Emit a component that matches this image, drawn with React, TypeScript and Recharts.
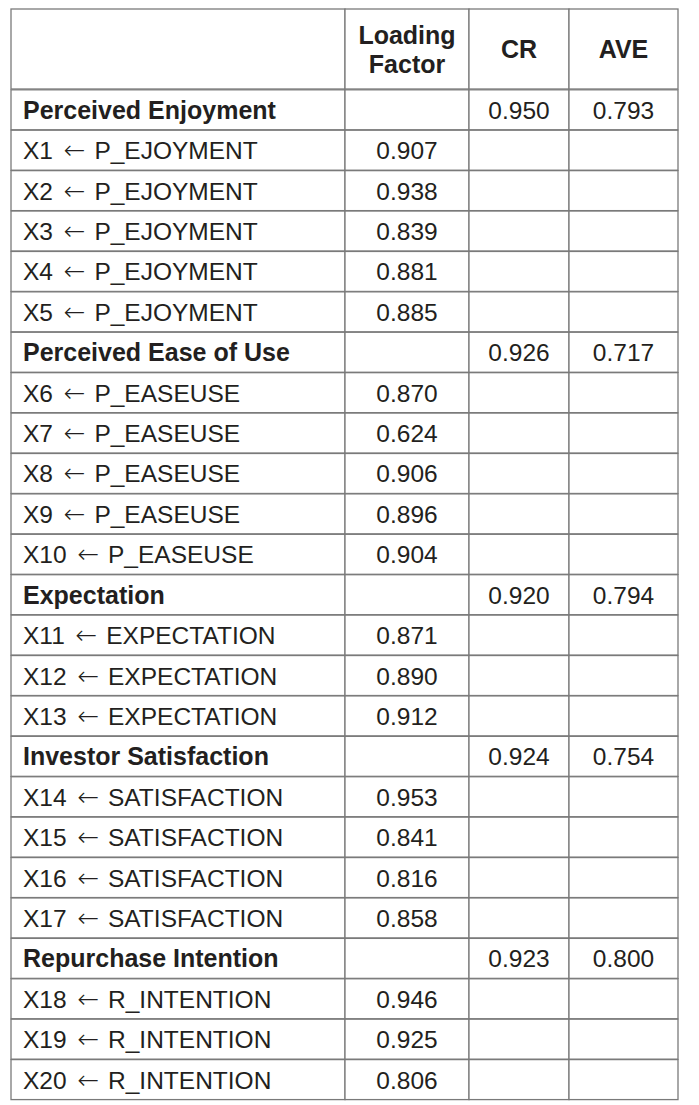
import { BarChart, Bar, XAxis, YAxis } from "recharts";

// table content
const headers = ["", "Loading\nFactor", "CR", "AVE"];
const groups = [
  "Perceived Enjoyment",
  "Perceived Ease of Use",
  "Expectation",
  "Investor Satisfaction",
  "Repurchase Intention",
];
const constructs = ["P_EJOYMENT", "P_EASEUSE", "EXPECTATION", "SATISFACTION", "R_INTENTION"];
const itemCounts = [5, 5, 3, 4, 3];
const groupCR = [0.95, 0.926, 0.92, 0.924, 0.923];
const groupAVE = [0.793, 0.717, 0.794, 0.754, 0.8];
const loadings = [
  0.907, 0.938, 0.839, 0.881, 0.885,
  0.87, 0.624, 0.906, 0.896, 0.904,
  0.871, 0.89, 0.912,
  0.953, 0.841, 0.816, 0.858,
  0.946, 0.925, 0.806,
];

// column widths in px (x domain units)
const COLS = ["name", "load", "cr", "ave"];
const COL_W = { name: 334, load: 124, cr: 100, ave: 109 };
const TOTAL_W = 667;

const FONT = '"Liberation Sans", Arial, Helvetica, sans-serif';
const INK = "#231f20";
const LINE = "#7a7a7a";

type Row = {
  key: string;
  kind: "h1" | "h2" | "group" | "item";
  text: Record<string, string>;
  name: number; load: number; cr: number; ave: number;
};

const rows: Row[] = [];
const widths = { name: COL_W.name, load: COL_W.load, cr: COL_W.cr, ave: COL_W.ave };
rows.push({ key: "h1", kind: "h1", text: { name: headers[0], load: headers[1], cr: headers[2], ave: headers[3] }, ...widths });
rows.push({ key: "h2", kind: "h2", text: {}, ...widths });
let n = 0;
groups.forEach((g, gi) => {
  rows.push({
    key: "g" + gi, kind: "group",
    text: { name: g, load: "", cr: groupCR[gi].toFixed(3), ave: groupAVE[gi].toFixed(3) },
    ...widths,
  });
  for (let i = 0; i < itemCounts[gi]; i++) {
    n++;
    rows.push({
      key: "x" + n, kind: "item",
      text: { name: `X${n} \u2190 ${constructs[gi]}`, load: loadings[n - 1].toFixed(3), cr: "", ave: "" },
      ...widths,
    });
  }
});

function CellShape(props: any) {
  const { x, y, width, height, payload, col } = props;
  const row: Row = payload;
  if (row.kind === "h2") return <g />;
  const h = row.kind === "h1" ? height * 2 : height;
  const txt = row.text[col] || "";
  const cy = y + h / 2;
  const bold = row.kind === "h1" || (row.kind === "group" && col === "name");
  const common = { fill: INK, fontSize: bold ? 25 : 24.5, fontFamily: FONT, fontWeight: bold ? 700 : 400 };
  let label = null;
  if (txt) {
    if (col === "name") {
      const arrowAt = txt.indexOf("\u2190");
      label = arrowAt < 0 ? (
        <text x={x + 12} y={cy + 9} textAnchor="start" {...common}>{txt}</text>
      ) : (
        <text x={x + 12} y={cy + 9} textAnchor="start" {...common}>
          <tspan>{txt.slice(0, arrowAt)}</tspan>
          <tspan dx={4} fontFamily='"DejaVu Sans", sans-serif' fontSize={26} fontWeight={200}>{"\u2190"}</tspan>
          <tspan dx={2}>{txt.slice(arrowAt + 1)}</tspan>
        </text>
      );
    } else if (txt.includes("\n")) {
      const parts = txt.split("\n");
      label = (
        <text textAnchor="middle" {...common}>
          <tspan x={x + width / 2} y={cy - 5}>{parts[0]}</tspan>
          <tspan x={x + width / 2} y={cy + 24}>{parts[1]}</tspan>
        </text>
      );
    } else {
      label = <text x={x + width / 2} y={cy + 9} textAnchor="middle" {...common}>{txt}</text>;
    }
  }
  return (
    <g>
      <rect x={x} y={y} width={width} height={h} fill="#fff" stroke={LINE} strokeWidth={1.3} />
      {label}
    </g>
  );
}

export default function App() {
  return (
    <div style={{ marginLeft: 2, background: "#fff" }}>
      <BarChart
        width={TOTAL_W + 2}
        height={1093}
        data={rows}
        layout="vertical"
        margin={{ top: 1, right: 1, bottom: 1, left: 1 }}
        barCategoryGap={0}
        barGap={0}
      >
        <XAxis type="number" domain={[0, TOTAL_W]} hide />
        <YAxis type="category" dataKey="key" hide />
        {COLS.map((c) => (
          <Bar
            key={c}
            dataKey={c}
            stackId="t"
            isAnimationActive={false}
            shape={(p: any) => <CellShape {...p} col={c} />}
          />
        ))}
      </BarChart>
    </div>
  );
}
